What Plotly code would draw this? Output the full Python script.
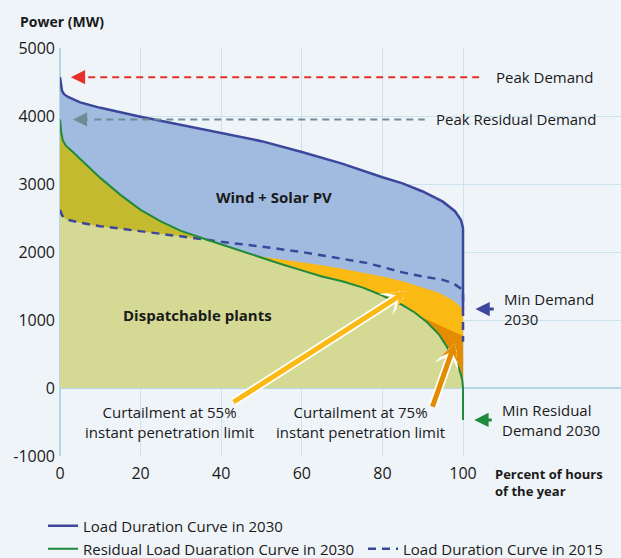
import plotly.graph_objects as go

# ---------------- data (percent of hours of the year, MW) ----------------
load2030_x = [0, 0.2, 0.5, 1, 2, 5, 10, 20, 30, 40, 50, 60, 70, 80, 85, 90, 95, 98, 99.5, 100, 100]
load2030_y = [4570, 4450, 4370, 4320, 4280, 4200, 4120, 3990, 3870, 3760, 3630, 3470, 3300, 3100,
              3010, 2890, 2740, 2600, 2470, 2350, 1160]

residual2030_x = [0, 0.3, 0.7, 1.5, 3, 5, 10, 15, 20, 25, 30, 36.5, 40, 45, 47, 50, 55, 60, 65, 70, 75,
                  80, 85, 88, 89, 91, 94, 96, 98, 99.3, 99.8, 100, 100]
residual2030_y = [3950, 3760, 3640, 3560, 3480, 3370, 3090, 2840, 2620, 2450, 2310, 2180, 2110, 2010, 1970,
                  1910, 1820, 1730, 1640, 1570, 1480, 1360, 1220, 1110, 1063, 970, 790, 610, 420,
                  230, 120, 0, -470]

load2015_x = [0, 0.5, 1.5, 5, 10, 20, 30, 36.5, 40, 50, 60, 70, 76, 80, 85, 90, 95, 97.6, 99.5, 100, 100]
load2015_y = [2620, 2540, 2480, 2430, 2380, 2300, 2230, 2180, 2150, 2080, 2000, 1900, 1840, 1780,
              1700, 1640, 1590, 1540, 1460, 1420, 680]

curt55_x = [47, 50, 55, 60, 65, 70, 75, 80, 85, 89, 94, 97.5, 99.7, 100, 100]
curt55_y = [1970, 1935, 1890, 1850, 1805, 1755, 1700, 1640, 1570, 1490, 1400, 1290, 1175, 1160, 0]

curt75_x = [89, 92, 95, 97.5, 99.5, 100, 100]
curt75_y = [1063, 980, 890, 830, 780, 770, 0]

crossing_x = 36.5  # where residual 2030 meets load 2015

x_tick_vals = [0, 20, 40, 60, 80, 100]
x_tick_text = ["0", "20", "40", "60", "80", "100"]
y_tick_vals = [-1000, 0, 1000, 2000, 3000, 4000, 5000]
y_tick_text = ["-1000", "0", "1000", "2000", "3000", "4000", "5000"]

# ---------------- styles ----------------
BG = "#eff4f9"
GRID = "#cde2ec"
NAVY = "#3c479b"
GREEN = "#1f8a3c"
BLUE_FILL = "#a1bbe0"
OLIVE_DARK = "#c4ba2f"
OLIVE_LIGHT = "#d4d993"
YELLOW = "#fbb913"
ORANGE = "#e38c02"
RED = "#e8302a"
GREYTEAL = "#6d8d95"
TEXT = "#1a1a1a"
FONT = "Open Sans"

fig = go.Figure()

def fill(x, y, color):
    fig.add_trace(go.Scatter(x=x, y=y, mode="lines", fill="tozeroy", fillcolor=color,
                             line=dict(width=0, color=color), showlegend=False, hoverinfo="skip"))

# area fills (painted back to front)
fill(load2030_x, load2030_y, BLUE_FILL)
fill(curt55_x, curt55_y, YELLOW)
fill(curt75_x, curt75_y, ORANGE)
fill(residual2030_x, residual2030_y, OLIVE_DARK)
i15 = load2015_x.index(crossing_x)
ir = residual2030_x.index(crossing_x)
fill(load2015_x[:i15 + 1] + residual2030_x[ir + 1:], load2015_y[:i15 + 1] + residual2030_y[ir + 1:], OLIVE_LIGHT)

# lines
fig.add_trace(go.Scatter(x=load2015_x, y=load2015_y, mode="lines", name="Load Duration Curve in 2015",
                         line=dict(color=NAVY, width=2.5, dash="8px,6px"), legend="legend3"))
fig.add_trace(go.Scatter(x=residual2030_x, y=residual2030_y, mode="lines",
                         name="Residual Load Duaration Curve in 2030",
                         line=dict(color=GREEN, width=2), legend="legend2"))
fig.add_trace(go.Scatter(x=load2030_x, y=load2030_y, mode="lines", name="Load Duration Curve in 2030",
                         line=dict(color=NAVY, width=2.5), legend="legend"))

peak_demand = load2030_y[0]
peak_residual = residual2030_y[0]
min_demand = load2030_y[-1]
min_residual = residual2030_y[-1]

shapes = [
    dict(type="line", xref="x", yref="y", x0=7, x1=104, y0=peak_demand, y1=peak_demand,
         line=dict(color=RED, width=2, dash="7px,5px")),
    dict(type="line", xref="x", yref="y", x0=8.5, x1=90.5, y0=peak_residual, y1=peak_residual,
         line=dict(color=GREYTEAL, width=2, dash="7px,5px")),
]

def arrow(x, y, ax, ay, color, width, size, head=2):
    return dict(x=x, y=y, ax=ax, ay=ay, xref="x", yref="y", axref="x", ayref="y", text="",
                showarrow=True, arrowhead=head, arrowsize=size, arrowwidth=width, arrowcolor=color)

def label(x, y, text, xanchor="left", bold=False, size=15, align="left"):
    return dict(x=x, y=y, xref="x", yref="y", text=f"<b>{text}</b>" if bold else text,
                showarrow=False, xanchor=xanchor, yanchor="middle", align=align,
                font=dict(family=FONT, size=size, color=TEXT))

annotations = [
    arrow(2.7, peak_demand, 6.2, peak_demand, RED, 3, 0.95),
    arrow(3.2, peak_residual, 7.2, peak_residual, GREYTEAL, 3, 0.95),
    arrow(103.1, min_demand, 108, min_demand, NAVY, 3, 0.95),
    arrow(102.8, min_residual, 107.5, min_residual, GREEN, 3, 0.95),
    # curtailment arrows (white outline underneath)
    arrow(86.1, 1425, 42.7, -220, "white", 8.5, 0.5, head=3),
    arrow(86.1, 1425, 42.7, -220, YELLOW, 5, 0.6, head=3),
    arrow(98.0, 662, 92.3, -295, "white", 8.5, 0.5, head=3),
    arrow(98.0, 662, 92.3, -295, ORANGE, 5, 0.6, head=3),
    label(107.7, peak_demand, "Peak Demand"),
    label(92.8, peak_residual, "Peak Residual Demand"),
    label(109.7, min_demand, "Min Demand<br>2030"),
    label(109.2, min_residual, "Min Residual<br>Demand 2030"),
    label(27.2, -500, "Curtailment at 55%<br>instant penetration limit", xanchor="center", align="center"),
    label(74.6, -500, "Curtailment at 75%<br>instant penetration limit", xanchor="center", align="center"),
    label(53.1, 2810, "Wind + Solar PV", xanchor="center", bold=True),
    label(34, 1075, "Dispatchable plants", xanchor="center", bold=True),
    dict(xref="paper", yref="paper", x=-0.075, y=1.064, text="<b>Power (MW)</b>", showarrow=False,
         xanchor="left", yanchor="middle", font=dict(family=FONT, size=14, color=TEXT)),
    dict(xref="paper", yref="paper", x=0.772, y=-0.064, text="<b>Percent of hours<br>of the year</b>",
         showarrow=False, xanchor="left", yanchor="middle", align="left",
         font=dict(family=FONT, size=13, color=TEXT)),
]

def legend_box(x_px, y_px):
    return dict(xref="container", yref="container", x=x_px / 621, y=(558 - y_px) / 558,
                xanchor="left", yanchor="middle", orientation="h", bgcolor="rgba(0,0,0,0)",
                borderwidth=0, font=dict(family=FONT, size=15, color=TEXT))

fig.update_layout(
    width=621, height=558,
    margin=dict(l=60, r=0, t=48, b=102),
    paper_bgcolor=BG, plot_bgcolor=BG,
    font=dict(family=FONT, size=15, color=TEXT),
    xaxis=dict(range=[0, 139.2], tickvals=x_tick_vals, ticktext=x_tick_text, showgrid=True,
               gridcolor=GRID, gridwidth=1, zeroline=True, zerolinecolor="#b7d6e5", zerolinewidth=2,
               showline=False, ticks="", tickfont=dict(size=16), ticklabelstandoff=6, automargin=False),
    yaxis=dict(range=[-1000, 5000], tickvals=y_tick_vals, ticktext=y_tick_text, showgrid=True,
               gridcolor=GRID, gridwidth=1, zeroline=True, zerolinecolor="#b7d6e5", zerolinewidth=2,
               showline=False, ticks="", tickfont=dict(size=16), ticklabelstandoff=4, automargin=False),
    shapes=shapes,
    annotations=annotations,
    legend=legend_box(43, 526),
    legend2=legend_box(43, 549),
    legend3=legend_box(363, 549),
    showlegend=True,
)

fig.write_html("out.html", config={"displayModeBar": False},
               post_script="document.body.style.margin='0';")
